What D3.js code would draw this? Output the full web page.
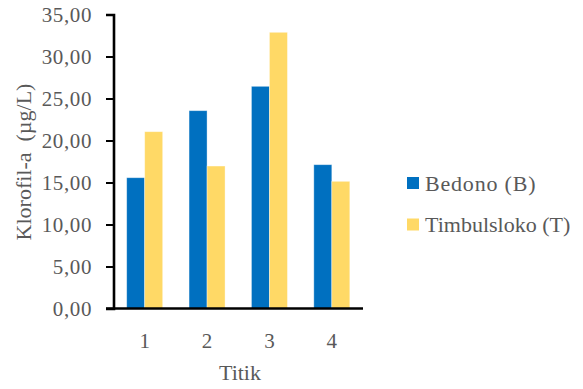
<!DOCTYPE html>
<html>
<head>
<meta charset="utf-8">
<script src="https://cdn.jsdelivr.net/npm/d3@7"></script>
<style>
  html, body { margin: 0; padding: 0; background: #fff; }
  svg { display: block; }
  svg text { font-family: "Liberation Serif", "Times New Roman", Times, serif !important; fill: #595959; }
</style>
</head>
<body>
<svg id="chart" width="583" height="389"></svg>
<script>
// Chlorophyll-a concentration per sampling point
const categories = ["1", "2", "3", "4"];
const seriesNames = ["Bedono (B)", "Timbulsloko (T)"];
const bedono = [15.57, 23.55, 26.45, 17.12];
const timbulsloko = [21.05, 16.96, 32.88, 15.14];
const yTicks = [0, 5, 10, 15, 20, 25, 30, 35];
const colors = ["#0070C0", "#FFD966"];

const svg = d3.select("#chart");
const margin = { left: 113.5, top: 14.5, bottom: 80.5 };
const H = 389;

const x = d3.scaleBand()
  .domain(categories)
  .range([margin.left, 363])
  .paddingInner(0.423)
  .paddingOuter(0.2115);

const xSub = d3.scaleBand()
  .domain(seriesNames)
  .range([0, x.bandwidth()]);

const y = d3.scaleLinear()
  .domain([0, 35])
  .range([H - margin.bottom, margin.top]);

const fmt = v => d3.format(".2f")(v).replace(".", ",");

const rows = categories.map((c, i) => ({ cat: c, vals: [bedono[i], timbulsloko[i]] }));

// bars
const g = svg.append("g");
g.selectAll("g.cat")
  .data(rows)
  .join("g")
  .attr("class", "cat")
  .attr("transform", d => `translate(${x(d.cat)},0)`)
  .selectAll("rect")
  .data(d => d.vals.map((v, k) => ({ v, k })))
  .join("rect")
  .attr("x", d => xSub(seriesNames[d.k]))
  .attr("width", xSub.bandwidth())
  .attr("y", d => y(d.v))
  .attr("height", d => y(0) - y(d.v))
  .attr("fill", d => colors[d.k])
  .attr("stroke", "rgba(255,255,255,0.45)")
  .attr("stroke-width", 0.8);

// y axis
const yAxis = d3.axisLeft(y)
  .tickValues(yTicks)
  .tickFormat(fmt)
  .tickSize(7.5)
  .tickPadding(14);
const yg = svg.append("g")
  .attr("transform", `translate(${margin.left},0)`)
  .call(yAxis);
yg.select(".domain").attr("stroke", "#000").attr("stroke-width", 2.6);
yg.selectAll(".tick line").attr("stroke", "#000").attr("stroke-width", 2);
yg.selectAll(".tick text")
  .style("font-size", "21px")
  .style("letter-spacing", "0.6px")
  .attr("dy", "0.34em");

// x axis
const xAxis = d3.axisBottom(x).tickSize(0).tickPadding(25);
const xg = svg.append("g")
  .attr("transform", `translate(0,${y(0)})`)
  .call(xAxis);
xg.select(".domain")
  .attr("d", `M${margin.left - 7.5},0H363`)
  .attr("stroke", "#000").attr("stroke-width", 2.6);
xg.selectAll(".tick text")
  .style("font-size", "21px");

// axis titles
svg.append("text")
  .attr("x", 240)
  .attr("y", 380)
  .attr("text-anchor", "middle")
  .style("font-size", "22px")
  .text("Titik");

svg.append("text")
  .attr("transform", `translate(31,162) rotate(-90)`)
  .attr("text-anchor", "middle")
  .style("font-size", "22px")
  .style("white-space", "pre")
  .text("Klorofil-a  (µg/L)");

// legend
const legend = svg.append("g");
const ly = [183, 224.5];
seriesNames.forEach((name, k) => {
  legend.append("rect")
    .attr("x", 407).attr("y", ly[k] - 6)
    .attr("width", 12).attr("height", 12)
    .attr("fill", colors[k]);
  legend.append("text")
    .attr("x", 425).attr("y", ly[k] + 7.5)
    .style("font-size", "22px")
    .style("letter-spacing", k === 0 ? "0.8px" : "0px")
    .text(name);
});
</script>
</body>
</html>
